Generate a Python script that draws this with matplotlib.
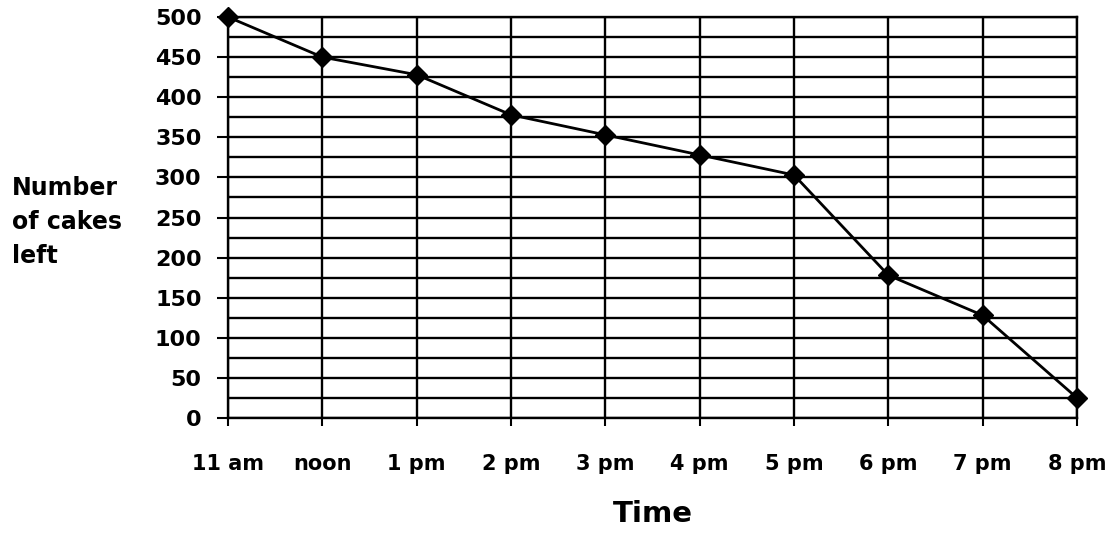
import matplotlib.pyplot as plt
from matplotlib.ticker import MultipleLocator

times = ["11 am", "noon", "1 pm", "2 pm", "3 pm", "4 pm", "5 pm", "6 pm", "7 pm", "8 pm"]
cakes_left = [500, 450, 428, 378, 353, 328, 303, 178, 128, 25]

plt.rcParams['font.family'] = ['DejaVu Sans']
plt.rcParams['font.weight'] = 'bold'

fig = plt.figure(figsize=(11.19, 5.35), dpi=100)
ax = fig.add_axes([0.2038, 0.2187, 0.7587, 0.7495])

xs = list(range(len(times)))
ax.plot(xs, cakes_left, color="black", lw=2, marker="D", markersize=10,
        clip_on=False, zorder=5)

ax.set_xlim(0, len(times) - 1)
ax.set_ylim(0, 500)
ax.set_xticks(xs)
ax.set_xticklabels(times)
ax.yaxis.set_major_locator(MultipleLocator(50))
ax.yaxis.set_minor_locator(MultipleLocator(25))

# grade em todas as direcoes, linhas pretas
ax.grid(True, which="major", axis="both", color="black", lw=1.7)
ax.grid(True, which="minor", axis="y", color="black", lw=1.7)
for s in ax.spines.values():
    s.set_linewidth(1.7)
    s.set_color("black")

ax.tick_params(axis="y", which="major", length=8, width=1.5, labelsize=16, pad=11)
ax.tick_params(axis="y", which="minor", length=0)
ax.tick_params(axis="x", length=6, width=1.5, labelsize=15, pad=20)
for lab in ax.get_xticklabels() + ax.get_yticklabels():
    lab.set_fontweight("bold")

ax.set_xlabel("Time", fontsize=21, fontweight="bold", labelpad=19)
fig.text(12 / 1119, 0.585, "Number\nof cakes\nleft", fontsize=17, fontweight="bold",
         ha="left", va="center", linespacing=1.55)

fig.savefig("out.png", dpi=100)
